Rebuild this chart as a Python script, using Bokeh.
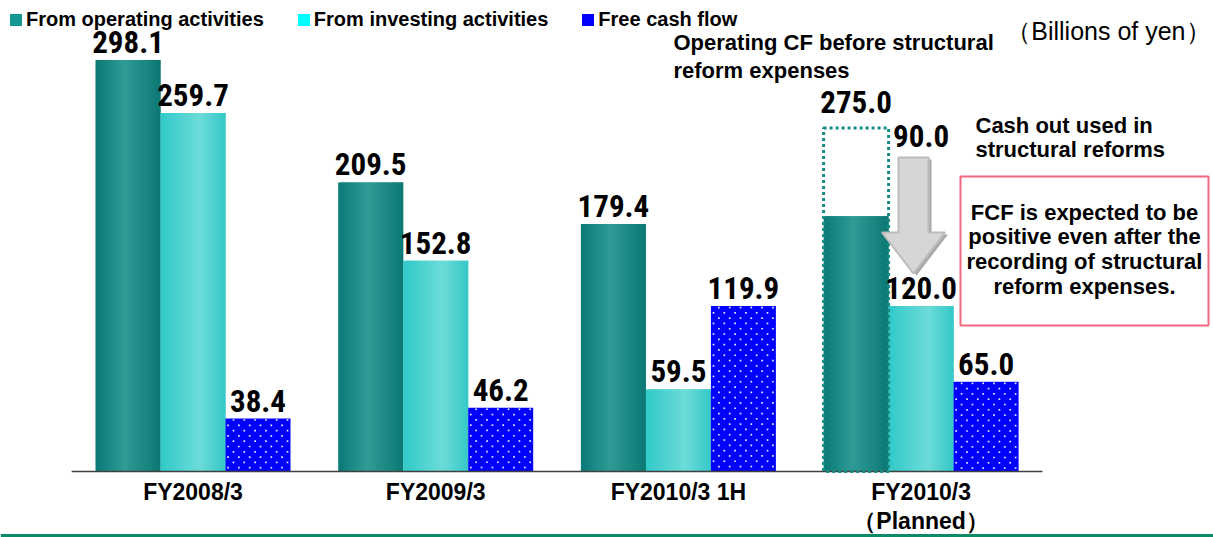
import numpy as np
from bokeh.plotting import figure
from bokeh.models import Range1d, ColumnDataSource, Legend, LegendItem, Span
from bokeh.core.properties import value
from bokeh.embed import file_html
from bokeh.resources import INLINE

# ---------------- data (billions of yen) ----------------
categories = ["FY2008/3", "FY2009/3", "FY2010/3 1H", "FY2010/3\n（Planned）"]
series_names = ["From operating activities", "From investing activities", "Free cash flow"]
operating_before_reform = 275.0          # planned operating CF before structural reform expenses
reform_cash_out = 90.0                   # cash out used in structural reforms
operating = [298.1, 209.5, 179.4, operating_before_reform - reform_cash_out]
investing = [259.7, 152.8, 59.5, 120.0]
free_cf = [38.4, 46.2, 119.9, 65.0]
operating_labelled = [True, True, True, False]
box_top_drawn = 249.0                    # height at which the dotted "before reform" box is drawn

# ---------------- layout ----------------
W, H = 1213, 537
XS = 242.7      # px per category
G0 = 192.5      # px of first category centre
YS = 1.38       # px per billion yen
BASE = 471      # px of zero line

def px_x(px):
    return (px - G0) / XS

def px_y(py):
    return (BASE - py) / YS

bw = 65 / XS
xc = np.arange(len(categories), dtype=float)

p = figure(width=W, height=H, output_backend="svg", toolbar_location=None,
           x_range=Range1d(px_x(0), px_x(W)), y_range=Range1d(px_y(H), px_y(0)),
           x_axis_location=None, y_axis_location=None, min_border=0,
           outline_line_color=None, background_fill_color="white",
           border_fill_color="white")
p.xgrid.visible = False
p.ygrid.visible = False

def hex2rgb(h):
    h = h.lstrip("#")
    return np.array([int(h[i:i + 2], 16) for i in (0, 2, 4)], dtype=float)

def interp_color(stops, t):
    for (t0, c0), (t1, c1) in zip(stops[:-1], stops[1:]):
        if t0 <= t <= t1:
            f = (t - t0) / (t1 - t0)
            c = hex2rgb(c0) * (1 - f) + hex2rgb(c1) * f
            return "#%02x%02x%02x" % tuple(int(round(v)) for v in c)
    return stops[-1][1]

def gradient_bars(centers, tops, stops, n=30):
    L, R, T, C = [], [], [], []
    sw = bw / n
    for c, t in zip(centers, tops):
        for k in range(n):
            left = c - bw / 2 + k * sw
            L.append(left)
            R.append(min(left + 2.2 * sw, c + bw / 2))
            T.append(t)
            C.append(interp_color(stops, (k + 0.5) / n))
    src = ColumnDataSource(dict(left=L, right=R, top=T, bottom=[0] * len(L), color=C))
    p.quad(left="left", right="right", top="top", bottom="bottom", source=src,
           fill_color="color", line_color=None)

teal_stops = [(0.0, "#0a7a76"), (0.45, "#2f9b96"), (1.0, "#0b7874")]
cyan_stops = [(0.0, "#30c9c9"), (0.6, "#6cdcd8"), (1.0, "#36c8c8")]

gradient_bars(xc - bw, operating, teal_stops)
gradient_bars(xc, investing, cyan_stops)

# free cash flow bars: solid blue with a fine staggered dot texture
fcf_left = xc + bw / 2
p.quad(left=fcf_left, right=fcf_left + bw, top=free_cf, bottom=0,
       fill_color="#0000ff", line_color=None)
dx_row, dy_row = 10.8 / XS, 5.3 / YS
dot_x, dot_y = [], []
for left, top in zip(fcf_left, free_cf):
    yy = top - 1.5 / YS
    r = 0
    while yy > 0.5 / YS:
        xx = left + ((8.0 if r % 2 == 0 else 2.6) / XS)
        while xx < left + bw - 1.0 / XS:
            dot_x.append(xx); dot_y.append(yy)
            xx += dx_row
        yy -= dy_row
        r += 1
p.scatter(x=dot_x, y=dot_y, marker="square", size=1.7, fill_color="#e8e8ff", line_color=None)

# baseline
p.segment(x0=[xc[0] - 0.5], x1=[xc[-1] + 0.5], y0=[0], y1=[0], line_color="#404040", line_width=1.5)

# dotted box: operating CF before structural reform expenses
p.quad(left=[xc[3] - 1.5 * bw], right=[xc[3] - 0.5 * bw], top=[box_top_drawn], bottom=[0],
       fill_color=None, line_color="#168c87", line_width=3, line_dash="3 3")

# down arrow (cash out)
ax = 913
shaft_hw, head_hw = 15, 31.5
a_top, a_head, a_tip = 157, 232, 273
arrow_px = [(ax - shaft_hw, a_top), (ax + shaft_hw, a_top), (ax + shaft_hw, a_head),
            (ax + head_hw, a_head), (ax, a_tip), (ax - head_hw, a_head), (ax - shaft_hw, a_head)]
p.patch([px_x(x + 3) for x, y in arrow_px], [px_y(y + 2) for x, y in arrow_px],
        fill_color="#a9a9a9", line_color=None)
p.patch([px_x(x) for x, y in arrow_px], [px_y(y) for x, y in arrow_px],
        fill_color="#d6d6d6", line_color="#bcbcbc", line_width=2)

# red note box
p.quad(left=[px_x(960)], right=[px_x(1208)], top=[px_y(176)], bottom=[px_y(325)],
       fill_color="white", line_color="#f2687e", line_width=2)

# value labels
NUM_FONT = value("'Roboto Condensed', 'DejaVu Sans Condensed', 'Liberation Sans'")
lab_x, lab_y, lab_t = [], [], []
for i in range(len(categories)):
    if operating_labelled[i]:
        lab_x.append(xc[i] - bw); lab_y.append(operating[i]); lab_t.append(f"{operating[i]:.1f}")
    lab_x.append(xc[i]); lab_y.append(investing[i]); lab_t.append(f"{investing[i]:.1f}")
    lab_x.append(xc[i] + bw); lab_y.append(free_cf[i]); lab_t.append(f"{free_cf[i]:.1f}")
p.text(x=lab_x, y=lab_y, text=lab_t, text_align="center", text_baseline="alphabetic",
       y_offset=-18, text_font=NUM_FONT, text_font_style="bold", text_font_size="31px",
       text_color="black")
p.text(x=[xc[3] - bw], y=[box_top_drawn], text=[f"{operating_before_reform:.1f}"],
       text_align="center", text_baseline="alphabetic", y_offset=-26, text_font=NUM_FONT,
       text_font_style="bold", text_font_size="31px", text_color="black")
p.text(x=[xc[3]], y=[px_y(a_top)], text=[f"{reform_cash_out:.1f}"],
       text_align="center", text_baseline="alphabetic", y_offset=-22, text_font=NUM_FONT,
       text_font_style="bold", text_font_size="31px", text_color="black")

# category labels
FONT = value("Liberation Sans")
p.text(x=xc, y=[0] * len(xc), text=categories, text_align="center", text_baseline="top",
       y_offset=7, text_font=FONT, text_font_style="bold", text_font_size="23px",
       text_line_height=1.15, text_color="black")

# annotations
p.text(x=[px_x(673)], y=[px_y(29)], text=["Operating CF before structural\nreform expenses"],
       text_align="left", text_baseline="top", text_font=FONT, text_font_style="bold",
       text_font_size="22px", text_line_height=1.147, text_color="black")
p.text(x=[px_x(975)], y=[px_y(112)], text=["Cash out used in\nstructural reforms"],
       text_align="left", text_baseline="top", text_font=FONT, text_font_style="bold",
       text_font_size="22px", text_line_height=0.99, text_color="black")
p.text(x=[px_x(1084)], y=[px_y(199)],
       text=["FCF is expected to be\npositive even after the\nrecording of structural\nreform expenses."],
       text_align="center", text_baseline="top", text_font=FONT, text_font_style="bold",
       text_font_size="22px", text_line_height=0.99, text_color="black")
p.text(x=[px_x(1210)], y=[px_y(30)], text=["（Billions of yen）"], text_align="right",
       text_baseline="middle", text_font=FONT, text_font_size="25px", text_color="black")

# bottom rule
p.add_layout(Span(location=px_y(535), dimension="width", line_color="#0d8a68", line_width=3))

# legend (proxy renderers placed outside the visible range)
leg_colors = ["#169690", "#00ffff", "#0000ff"]
items = []
for name, col in zip(series_names, leg_colors):
    r = p.quad(left=[-50], right=[-49], top=[1], bottom=[0], fill_color=col, line_color=None)
    items.append(LegendItem(label=name, renderers=[r]))
legend = Legend(items=items, orientation="horizontal", location="top_left",
                glyph_width=15, glyph_height=15, label_standoff=3, spacing=32,
                padding=0, margin=8, border_line_color=None, background_fill_alpha=0,
                label_text_font="Liberation Sans", label_text_font_style="bold",
                label_text_font_size="20px", label_text_color="black")
p.add_layout(legend, "center")

open("out.html", "w").write(file_html(p, INLINE))
